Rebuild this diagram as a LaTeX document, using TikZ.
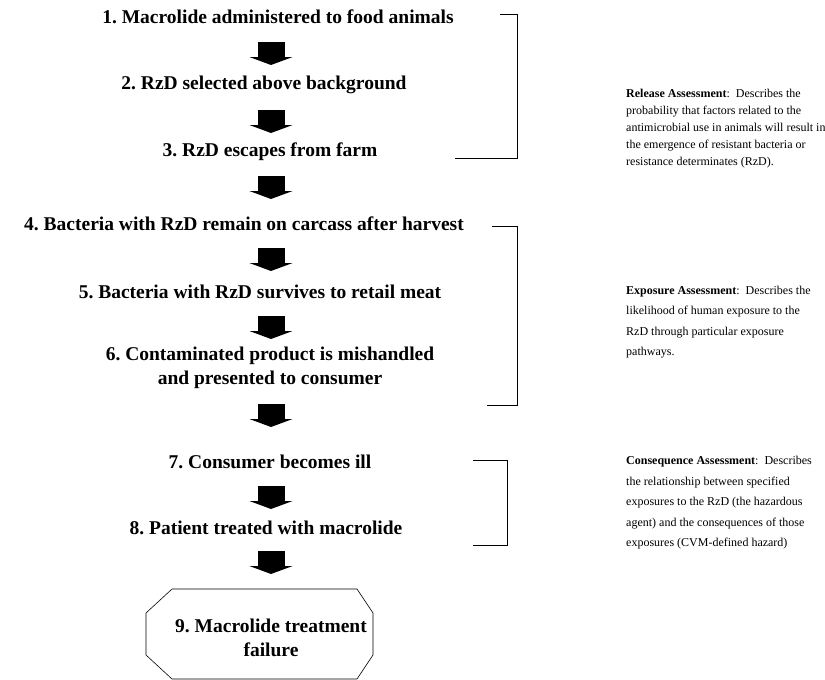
\documentclass[tikz,border=0pt]{standalone}
\usepackage{fontspec}
\setmainfont{Liberation Serif}
\usetikzlibrary{arrows.meta,positioning}
\frenchspacing

\begin{document}
\begin{tikzpicture}[x=1pt,y=-1pt,
                    blockarrow/.style={line width=27pt,-{Triangle[length=8pt,width=43pt]}},
                    bracket/.style={line width=0.7pt}]
  \tikzstyle{stepnode}=[font=\bfseries\fontsize{19.5}{23.5}\selectfont,align=center,inner sep=0pt]
  \tikzstyle{note}=[font=\fontsize{12}{20.5}\selectfont,align=left,anchor=west,inner sep=0pt]
\useasboundingbox (0,0) rectangle (825,680);

% steps
\node [stepnode] (1) at (278,17)  {1. Macrolide administered to food animals};
\node [stepnode] (2) at (264,85)  {2. RzD selected above background};
\node [stepnode] (3) at (270,152) {3. RzD escapes from farm};
\node [stepnode] (4) at (244,224) {4. Bacteria with RzD remain on carcass after harvest};
\node [stepnode] (5) at (260,292) {5. Bacteria with RzD survives to retail meat};
\node [stepnode] (6) at (270,368) {6. Contaminated product is mishandled\\and presented to consumer};
\node [stepnode] (7) at (270,462) {7. Consumer becomes ill};
\node [stepnode] (8) at (266,528) {8. Patient treated with macrolide};
\draw [line width=0.6pt] (172,589) -- (357,589) -- (373,613) -- (373,655) -- (357,679)
      -- (172,679) -- (146,655) -- (146,613) -- cycle;
\node [stepnode] (9) at (271,638) {9. Macrolide treatment\\failure};

% block arrows
\foreach \i/\top in {1/42,2/110,3/176,4/248,5/316,6/404,7/486,8/551}{
  \coordinate (a\i t) at (271,\top);
  \coordinate (a\i b) at (271,\top+23);
  \draw [blockarrow] (a\i t) -- (a\i b);
}

% brackets
\coordinate (r1) at (500,14);  \coordinate (r2) at (517,158); \coordinate (r3) at (455,158);
\coordinate (e1) at (492,226); \coordinate (e2) at (517,405); \coordinate (e3) at (487,405);
\coordinate (c1) at (473,460); \coordinate (c2) at (507,545); \coordinate (c3) at (473,545);
\draw [bracket] (r1) -| (r2) -- (r3);
\draw [bracket] (e1) -| (e2) -- (e3);
\draw [bracket] (c1) -| (c2) -- (c3);

% assessments
\node [note,font=\fontsize{12}{17}\selectfont] (rel) at (626,129) {\textbf{Release Assessment}:\ \ Describes the\\
  probability that factors related to the\\
  antimicrobial use in animals will result in\\
  the emergence of resistant bacteria or\\
  resistance determinates (RzD).};
\node [note] (exp) at (626,322) {\textbf{Exposure Assessment}:\ \ Describes the\\
  likelihood of human exposure to the\\
  RzD through particular exposure\\
  pathways.};
\node [note] (con) at (626,503) {\textbf{Consequence Assessment}:\ \ Describes\\
  the relationship between specified\\
  exposures to the RzD (the hazardous\\
  agent) and the consequences of those\\
  exposures (CVM-defined hazard)};

\end{tikzpicture}
\end{document}
